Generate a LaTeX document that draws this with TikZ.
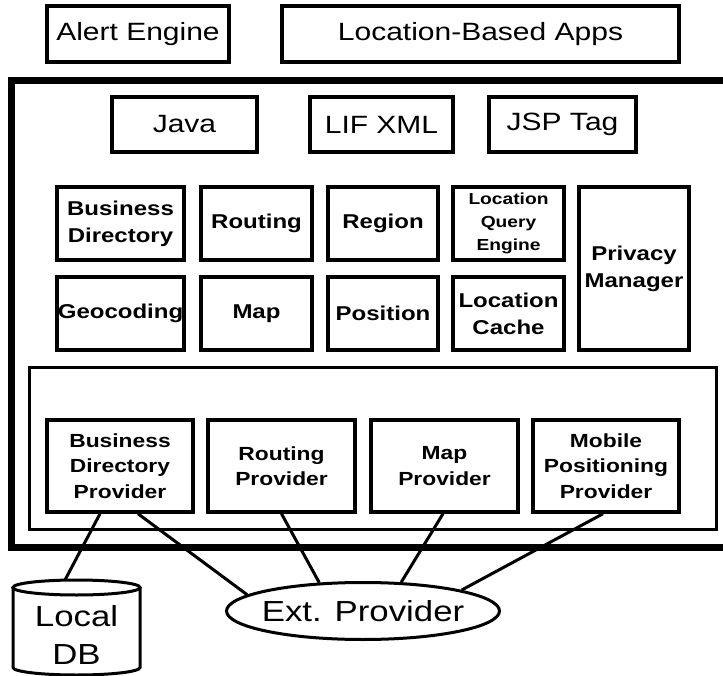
\documentclass[tikz,border=0pt]{standalone}
\usepackage{fontspec}
\setmainfont{Liberation Sans}[FakeStretch=1.2]
\usetikzlibrary{shapes.geometric,calc}
\begin{document}
\begin{tikzpicture}[x=1pt,y=-1pt,
  box/.style={draw, line width=3.5pt, align=center, inner sep=0pt},
  topbox/.style={box, font=\fontsize{25}{30}\selectfont, minimum height=56pt},
  midbox/.style={box, font=\fontsize{25}{30}\selectfont, minimum height=55pt},
  svc/.style={box, font=\bfseries\fontsize{20}{27}\selectfont, minimum height=73pt},
  provbox/.style={box, font=\bfseries\fontsize{19}{25.5}\selectfont, minimum height=92pt},
  link/.style={line width=3pt}]
\useasboundingbox (0,0) rectangle (723,676);
% top
\node[topbox, minimum width=182pt] (alert) at (138,34) {Alert Engine};
\node[topbox, minimum width=397pt] (lba) at (480.5,34) {Location-Based Apps};
% outer frame
\draw[line width=7pt] (723,81) -- (11,81) -- (11,547) -- (723,547);
% interfaces
\node[midbox, minimum width=145pt] (java) at (184.5,124.5) {Java};
\node[midbox, minimum width=143pt] (lif) at (381.5,124.5) {LIF XML};
\node[midbox, minimum width=147pt] (jsp) at (562.5,124.5) {JSP Tag};
% services
\node[svc, minimum width=127pt] (bd) at (120.5,223.5) {Business\\Directory};
\node[svc, minimum width=111pt] (routing) at (256.5,223.5) {Routing};
\node[svc, minimum width=110pt] (region) at (383,223.5) {Region};
\node[svc, minimum width=111pt, font=\bfseries\fontsize{16}{23}\selectfont] (lqe) at (508.5,223.5) {Location\\Query\\Engine};
\node[svc, minimum width=110pt, minimum height=163pt] (privacy) at (634,268.5) {Privacy\\Manager};
\node[svc, minimum width=127pt] (geo) at (120.5,313.5) {Geocoding};
\node[svc, minimum width=111pt] (map) at (256.5,313.5) {Map};
\node[svc, minimum width=110pt] (pos) at (383,313.5) {Position};
\node[svc, minimum width=111pt] (cache) at (508.5,313.5) {Location\\Cache};
% provider layer
\node[draw, line width=3pt, inner sep=0pt, minimum width=687pt, minimum height=162pt] (layer) at (372.5,448) {};
\node[provbox, minimum width=146pt] (bdp) at (120,466) {Business\\Directory\\Provider};
\node[provbox, minimum width=147pt] (rp) at (281.5,466) {Routing\\Provider};
\node[provbox, minimum width=147pt] (mp) at (444.5,466) {Map\\Provider};
\node[provbox, minimum width=146pt] (mpp) at (606,466) {Mobile\\Positioning\\Provider};
% external provider
\node[draw, ellipse, line width=3pt, minimum width=273pt, minimum height=57pt,
      inner xsep=-40pt, inner ysep=0pt, font=\fontsize{29}{34}\selectfont] (ext) at (363,611) {Ext. Provider};
% local DB cylinder
\draw[line width=3pt] (76.5,587.5) ellipse [x radius=63.5, y radius=7.5];
\draw[line width=3pt] (13,587.5) -- (13,667.5) arc[start angle=180, end angle=0, x radius=63.5, y radius=7.5] -- (140,587.5);
\node[font=\fontsize{29}{38}\selectfont, align=center, inner sep=0pt] (db) at (76.5,635) {Local\\DB};
\coordinate (dbtop) at (65,580);
% connectors
\draw[link] ($(bdp.south)+(-20,0)$) -- (dbtop);
\draw[link] ($(bdp.south)+(18,0)$) -- (ext.172);
\draw[link] (rp.south) -- (ext.147);
\draw[link] ($(mp.south)+(-1.5,0)$) -- (ext.37);
\draw[link] ($(mpp.south)+(-3,0)$) -- (ext.12);
\end{tikzpicture}
\end{document}
